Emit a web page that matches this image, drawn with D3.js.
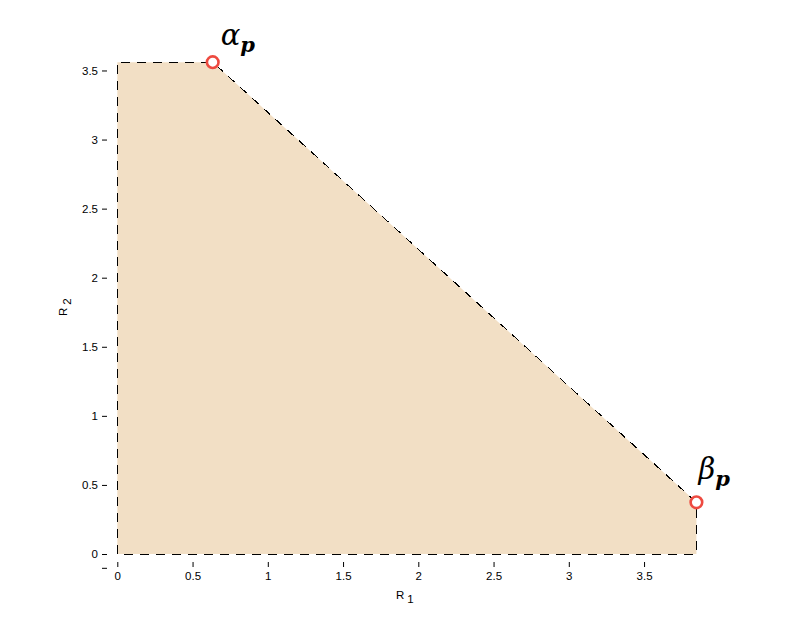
<!DOCTYPE html>
<html>
<head>
<meta charset="utf-8">
<style> body { margin: 0; background: #fff; } </style>
<script src="https://d3js.org/d3.v7.min.js"></script>
</head>
<body>
<div id="chart"></div>
<script>
// region corners (R1, R2)
var region = [[0, 0], [0, 3.56], [0.634, 3.56], [3.848, 0.374], [3.848, 0]];
var cornerPoints = [
    {name: "α", sub: "p", r1: 0.634, r2: 3.56},
    {name: "β", sub: "p", r1: 3.848, r2: 0.374}
];
var xTicks = [0, 0.5, 1, 1.5, 2, 2.5, 3, 3.5];
var yTicks = [-0.1, 0, 0.5, 1, 1.5, 2, 2.5, 3, 3.5];

var W = 786, H = 637;

var svg = d3.select("#chart").append("svg")
    .attr("width", W)
    .attr("height", H);

var x = d3.scaleLinear().domain([0, 4]).range([117.3, 117.3 + 150.5 * 4]);
var y = d3.scaleLinear().domain([0, 4]).range([554, 554 - 138.15 * 4]);

var line = d3.line().x(d => x(d[0])).y(d => y(d[1]));

// filled region
svg.append("path")
    .datum(region)
    .attr("d", line(region) + "Z")
    .attr("fill", "#f2dfc5")
    .attr("stroke", "none");

// dashed border
svg.append("path")
    .datum(region)
    .attr("d", line(region.concat([region[0]])))
    .attr("fill", "none")
    .attr("stroke", "#000")
    .attr("stroke-width", 1)
    .attr("shape-rendering", "crispEdges")
    .style("stroke-dasharray", "9,7");

// axes (offset, no domain line)
var yAxis = svg.append("g")
    .attr("transform", "translate(107,0)")
    .call(d3.axisLeft(y).tickValues(yTicks).tickSize(5).tickPadding(4)
        .tickFormat(d => d < 0 ? "" : d3.format("")(d)));

var xAxis = svg.append("g")
    .attr("transform", "translate(0,562)")
    .call(d3.axisBottom(x).tickValues(xTicks).tickSize(5).tickPadding(5)
        .tickFormat(d3.format("")));

svg.selectAll(".domain").remove();
svg.selectAll(".tick line").attr("stroke", "#000").attr("stroke-width", 1);
svg.selectAll(".tick text")
    .attr("font-family", "Liberation Sans, Arial, sans-serif")
    .attr("font-size", 11.5)
    .attr("fill", "#000");

// axis labels
var xl = svg.append("text")
    .attr("x", 396)
    .attr("y", 599)
    .attr("font-family", "Liberation Sans, Arial, sans-serif")
    .attr("font-size", 11.5);
xl.append("tspan").text("R");
xl.append("tspan").attr("dx", 3).attr("dy", 4).text("1");

var yl = svg.append("text")
    .attr("transform", "translate(67,316) rotate(-90)")
    .attr("font-family", "Liberation Sans, Arial, sans-serif")
    .attr("font-size", 11.5);
yl.append("tspan").text("R");
yl.append("tspan").attr("dx", 3).attr("dy", 4).text("2");

// corner markers
svg.selectAll(".corner")
    .data(cornerPoints)
    .enter()
    .append("circle")
    .attr("class", "corner")
    .attr("cx", d => x(d.r1))
    .attr("cy", d => y(d.r2))
    .attr("r", 5.8)
    .attr("fill", "#fff")
    .attr("stroke", "#ee4a40")
    .attr("stroke-width", 2.6);

// greek labels
var offsets = [{dx: 8, dy: -17}, {dx: 2, dy: -23}];
cornerPoints.forEach(function(d, i) {
    var t = svg.append("text")
        .attr("x", x(d.r1) + offsets[i].dx)
        .attr("y", y(d.r2) + offsets[i].dy)
        .attr("font-family", "DejaVu Serif, serif")
        .attr("font-style", "italic")
        .attr("font-size", 29)
        .attr("fill", "#000");
    t.append("tspan").text(d.name);
    t.append("tspan")
        .attr("dy", 7)
        .attr("font-size", 21)
        .attr("font-weight", "bold")
        .text(d.sub);
});
</script>
</body>
</html>
